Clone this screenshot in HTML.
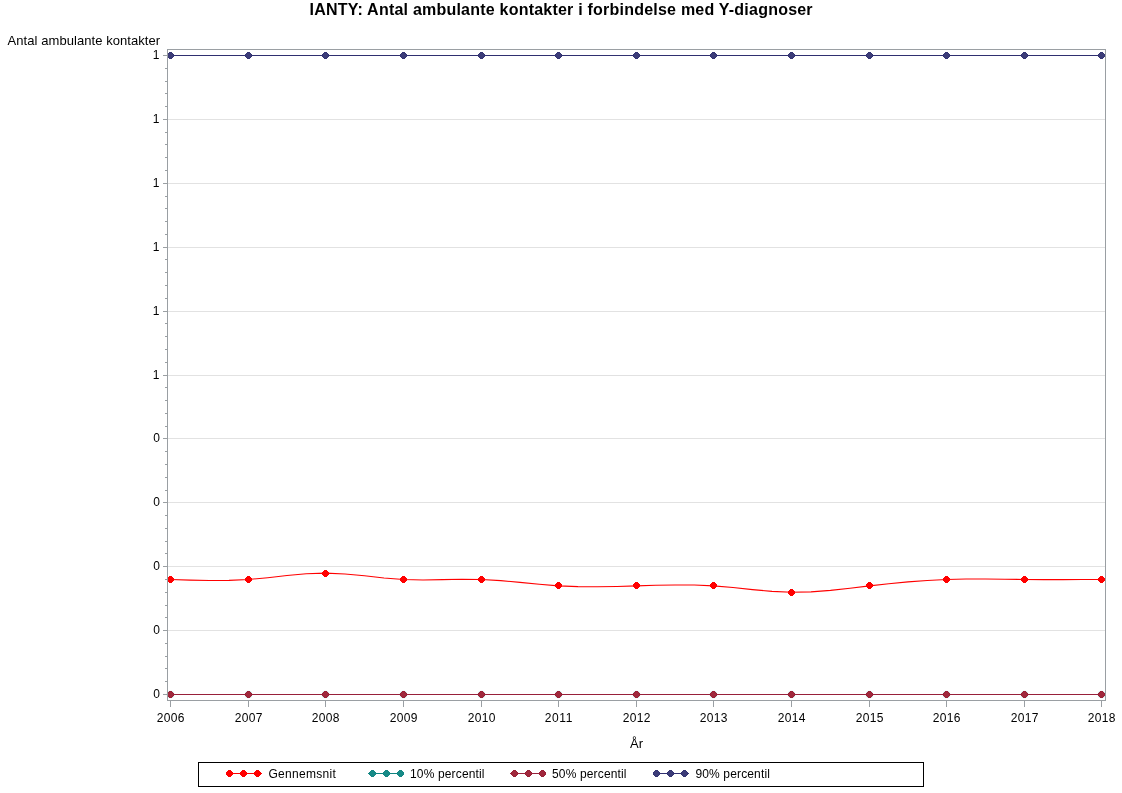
<!DOCTYPE html>
<html><head><meta charset="utf-8"><style>
html,body{margin:0;padding:0;background:#fff;width:1122px;height:793px;overflow:hidden}
svg{position:absolute;left:0;top:0;display:block;will-change:transform}
text{font-family:"Liberation Sans",sans-serif;fill:#000}
</style></head><body>
<svg width="1122" height="793" viewBox="0 0 1122 793">
<rect x="0" y="0" width="1122" height="793" fill="#fff"/>
<text x="309.6" y="15" textLength="503" lengthAdjust="spacing" style="font-size:16px;font-weight:bold">IANTY: Antal ambulante kontakter i forbindelse med Y-diagnoser</text>
<text x="7.6" y="45" textLength="152.5" lengthAdjust="spacing" style="font-size:13px">Antal ambulante kontakter</text>
<g shape-rendering="crispEdges" fill="none">
<path d="M168 119.5H1105" stroke="#E2E2E2"/>
<path d="M168 183.5H1105" stroke="#E2E2E2"/>
<path d="M168 247.5H1105" stroke="#E2E2E2"/>
<path d="M168 311.5H1105" stroke="#E2E2E2"/>
<path d="M168 375.5H1105" stroke="#E2E2E2"/>
<path d="M168 438.5H1105" stroke="#E2E2E2"/>
<path d="M168 502.5H1105" stroke="#E2E2E2"/>
<path d="M168 566.5H1105" stroke="#E2E2E2"/>
<path d="M168 630.5H1105" stroke="#E2E2E2"/>
<path d="M165 681.5H167" stroke="#9A9FA3"/>
<path d="M165 668.5H167" stroke="#9A9FA3"/>
<path d="M165 656.5H167" stroke="#9A9FA3"/>
<path d="M165 643.5H167" stroke="#9A9FA3"/>
<path d="M165 617.5H167" stroke="#9A9FA3"/>
<path d="M165 605.5H167" stroke="#9A9FA3"/>
<path d="M165 592.5H167" stroke="#9A9FA3"/>
<path d="M165 579.5H167" stroke="#9A9FA3"/>
<path d="M165 553.5H167" stroke="#9A9FA3"/>
<path d="M165 541.5H167" stroke="#9A9FA3"/>
<path d="M165 528.5H167" stroke="#9A9FA3"/>
<path d="M165 515.5H167" stroke="#9A9FA3"/>
<path d="M165 490.5H167" stroke="#9A9FA3"/>
<path d="M165 477.5H167" stroke="#9A9FA3"/>
<path d="M165 464.5H167" stroke="#9A9FA3"/>
<path d="M165 451.5H167" stroke="#9A9FA3"/>
<path d="M165 426.5H167" stroke="#9A9FA3"/>
<path d="M165 413.5H167" stroke="#9A9FA3"/>
<path d="M165 400.5H167" stroke="#9A9FA3"/>
<path d="M165 387.5H167" stroke="#9A9FA3"/>
<path d="M165 362.5H167" stroke="#9A9FA3"/>
<path d="M165 349.5H167" stroke="#9A9FA3"/>
<path d="M165 336.5H167" stroke="#9A9FA3"/>
<path d="M165 323.5H167" stroke="#9A9FA3"/>
<path d="M165 298.5H167" stroke="#9A9FA3"/>
<path d="M165 285.5H167" stroke="#9A9FA3"/>
<path d="M165 272.5H167" stroke="#9A9FA3"/>
<path d="M165 259.5H167" stroke="#9A9FA3"/>
<path d="M165 234.5H167" stroke="#9A9FA3"/>
<path d="M165 221.5H167" stroke="#9A9FA3"/>
<path d="M165 208.5H167" stroke="#9A9FA3"/>
<path d="M165 196.5H167" stroke="#9A9FA3"/>
<path d="M165 170.5H167" stroke="#9A9FA3"/>
<path d="M165 157.5H167" stroke="#9A9FA3"/>
<path d="M165 144.5H167" stroke="#9A9FA3"/>
<path d="M165 132.5H167" stroke="#9A9FA3"/>
<path d="M165 106.5H167" stroke="#9A9FA3"/>
<path d="M165 93.5H167" stroke="#9A9FA3"/>
<path d="M165 81.5H167" stroke="#9A9FA3"/>
<path d="M165 68.5H167" stroke="#9A9FA3"/>
<path d="M163 55.5H167" stroke="#9A9FA3"/>
<path d="M163 119.5H167" stroke="#9A9FA3"/>
<path d="M163 183.5H167" stroke="#9A9FA3"/>
<path d="M163 247.5H167" stroke="#9A9FA3"/>
<path d="M163 311.5H167" stroke="#9A9FA3"/>
<path d="M163 375.5H167" stroke="#9A9FA3"/>
<path d="M163 438.5H167" stroke="#9A9FA3"/>
<path d="M163 502.5H167" stroke="#9A9FA3"/>
<path d="M163 566.5H167" stroke="#9A9FA3"/>
<path d="M163 630.5H167" stroke="#9A9FA3"/>
<path d="M163 694.5H167" stroke="#9A9FA3"/>
<path d="M170.5 701V707" stroke="#9A9FA3"/>
<path d="M248.5 701V707" stroke="#9A9FA3"/>
<path d="M325.5 701V707" stroke="#9A9FA3"/>
<path d="M403.5 701V707" stroke="#9A9FA3"/>
<path d="M481.5 701V707" stroke="#9A9FA3"/>
<path d="M558.5 701V707" stroke="#9A9FA3"/>
<path d="M636.5 701V707" stroke="#9A9FA3"/>
<path d="M713.5 701V707" stroke="#9A9FA3"/>
<path d="M791.5 701V707" stroke="#9A9FA3"/>
<path d="M869.5 701V707" stroke="#9A9FA3"/>
<path d="M946.5 701V707" stroke="#9A9FA3"/>
<path d="M1024.5 701V707" stroke="#9A9FA3"/>
<path d="M1101.5 701V707" stroke="#9A9FA3"/>
</g>
<text x="159.4" y="59" text-anchor="end" style="font-size:12px">1</text>
<text x="159.4" y="123" text-anchor="end" style="font-size:12px">1</text>
<text x="159.4" y="187" text-anchor="end" style="font-size:12px">1</text>
<text x="159.4" y="251" text-anchor="end" style="font-size:12px">1</text>
<text x="159.4" y="315" text-anchor="end" style="font-size:12px">1</text>
<text x="159.4" y="379" text-anchor="end" style="font-size:12px">1</text>
<text x="159.9" y="442" text-anchor="end" style="font-size:12px">0</text>
<text x="159.9" y="506" text-anchor="end" style="font-size:12px">0</text>
<text x="159.9" y="570" text-anchor="end" style="font-size:12px">0</text>
<text x="159.9" y="634" text-anchor="end" style="font-size:12px">0</text>
<text x="159.9" y="698" text-anchor="end" style="font-size:12px">0</text>
<text x="156.65" y="722" textLength="27.7" lengthAdjust="spacing" style="font-size:12px">2006</text>
<text x="234.65" y="722" textLength="27.7" lengthAdjust="spacing" style="font-size:12px">2007</text>
<text x="311.65" y="722" textLength="27.7" lengthAdjust="spacing" style="font-size:12px">2008</text>
<text x="389.65" y="722" textLength="27.7" lengthAdjust="spacing" style="font-size:12px">2009</text>
<text x="467.65" y="722" textLength="27.7" lengthAdjust="spacing" style="font-size:12px">2010</text>
<text x="544.65" y="722" textLength="27.7" lengthAdjust="spacing" style="font-size:12px">2011</text>
<text x="622.65" y="722" textLength="27.7" lengthAdjust="spacing" style="font-size:12px">2012</text>
<text x="699.65" y="722" textLength="27.7" lengthAdjust="spacing" style="font-size:12px">2013</text>
<text x="777.65" y="722" textLength="27.7" lengthAdjust="spacing" style="font-size:12px">2014</text>
<text x="855.65" y="722" textLength="27.7" lengthAdjust="spacing" style="font-size:12px">2015</text>
<text x="932.65" y="722" textLength="27.7" lengthAdjust="spacing" style="font-size:12px">2016</text>
<text x="1010.65" y="722" textLength="27.7" lengthAdjust="spacing" style="font-size:12px">2017</text>
<text x="1087.65" y="722" textLength="27.7" lengthAdjust="spacing" style="font-size:12px">2018</text>
<g>
<path d="M170.50,579.48 L190.00,580.14 L209.50,580.54 L229.00,580.41 L248.50,579.48 L267.75,577.68 L287.00,575.55 L306.25,573.79 L325.50,573.09 L345.00,573.94 L364.50,575.82 L384.00,577.93 L403.50,579.48 L423.00,579.93 L442.50,579.65 L462.00,579.30 L481.50,579.48 L500.75,580.62 L520.00,582.41 L539.25,584.32 L558.50,585.87 L578.00,586.67 L597.50,586.79 L617.00,586.45 L636.50,585.87 L655.75,585.29 L675.00,584.93 L694.25,585.04 L713.50,585.87 L733.00,587.54 L752.50,589.58 L772.00,591.36 L791.50,592.26 L811.00,591.84 L830.50,590.34 L850.00,588.21 L869.50,585.87 L888.75,583.72 L908.00,581.88 L927.25,580.44 L946.50,579.48 L966.00,579.05 L985.50,579.04 L1005.00,579.24 L1024.50,579.48 L1043.75,579.61 L1063.00,579.63 L1082.25,579.57 L1101.50,579.48" fill="none" stroke="#FF0000" stroke-width="1.1" stroke-linejoin="round"/><path d="M169.0 576.0h3v1h1v1h1v3h-1v1h-1v1h-3v-1h-1v-1h-1v-3h1v-1h1z" fill="#FF0000" shape-rendering="crispEdges"/><path d="M247.0 576.0h3v1h1v1h1v3h-1v1h-1v1h-3v-1h-1v-1h-1v-3h1v-1h1z" fill="#FF0000" shape-rendering="crispEdges"/><path d="M324.0 570.0h3v1h1v1h1v3h-1v1h-1v1h-3v-1h-1v-1h-1v-3h1v-1h1z" fill="#FF0000" shape-rendering="crispEdges"/><path d="M402.0 576.0h3v1h1v1h1v3h-1v1h-1v1h-3v-1h-1v-1h-1v-3h1v-1h1z" fill="#FF0000" shape-rendering="crispEdges"/><path d="M480.0 576.0h3v1h1v1h1v3h-1v1h-1v1h-3v-1h-1v-1h-1v-3h1v-1h1z" fill="#FF0000" shape-rendering="crispEdges"/><path d="M557.0 582.0h3v1h1v1h1v3h-1v1h-1v1h-3v-1h-1v-1h-1v-3h1v-1h1z" fill="#FF0000" shape-rendering="crispEdges"/><path d="M635.0 582.0h3v1h1v1h1v3h-1v1h-1v1h-3v-1h-1v-1h-1v-3h1v-1h1z" fill="#FF0000" shape-rendering="crispEdges"/><path d="M712.0 582.0h3v1h1v1h1v3h-1v1h-1v1h-3v-1h-1v-1h-1v-3h1v-1h1z" fill="#FF0000" shape-rendering="crispEdges"/><path d="M790.0 589.0h3v1h1v1h1v3h-1v1h-1v1h-3v-1h-1v-1h-1v-3h1v-1h1z" fill="#FF0000" shape-rendering="crispEdges"/><path d="M868.0 582.0h3v1h1v1h1v3h-1v1h-1v1h-3v-1h-1v-1h-1v-3h1v-1h1z" fill="#FF0000" shape-rendering="crispEdges"/><path d="M945.0 576.0h3v1h1v1h1v3h-1v1h-1v1h-3v-1h-1v-1h-1v-3h1v-1h1z" fill="#FF0000" shape-rendering="crispEdges"/><path d="M1023.0 576.0h3v1h1v1h1v3h-1v1h-1v1h-3v-1h-1v-1h-1v-3h1v-1h1z" fill="#FF0000" shape-rendering="crispEdges"/><path d="M1100.0 576.0h3v1h1v1h1v3h-1v1h-1v1h-3v-1h-1v-1h-1v-3h1v-1h1z" fill="#FF0000" shape-rendering="crispEdges"/>
<path d="M170 694.5H1105" stroke="#0E8380" shape-rendering="crispEdges"/><path d="M169.0 691.0h3v1h1v1h1v3h-1v1h-1v1h-3v-1h-1v-1h-1v-3h1v-1h1z" fill="#138784" shape-rendering="crispEdges"/><path d="M169.0 692.0h3v1h1v3h-1v1h-3v-1h-1v-3h1z" fill="#178A87" shape-rendering="crispEdges"/><path d="M247.0 691.0h3v1h1v1h1v3h-1v1h-1v1h-3v-1h-1v-1h-1v-3h1v-1h1z" fill="#138784" shape-rendering="crispEdges"/><path d="M247.0 692.0h3v1h1v3h-1v1h-3v-1h-1v-3h1z" fill="#178A87" shape-rendering="crispEdges"/><path d="M324.0 691.0h3v1h1v1h1v3h-1v1h-1v1h-3v-1h-1v-1h-1v-3h1v-1h1z" fill="#138784" shape-rendering="crispEdges"/><path d="M324.0 692.0h3v1h1v3h-1v1h-3v-1h-1v-3h1z" fill="#178A87" shape-rendering="crispEdges"/><path d="M402.0 691.0h3v1h1v1h1v3h-1v1h-1v1h-3v-1h-1v-1h-1v-3h1v-1h1z" fill="#138784" shape-rendering="crispEdges"/><path d="M402.0 692.0h3v1h1v3h-1v1h-3v-1h-1v-3h1z" fill="#178A87" shape-rendering="crispEdges"/><path d="M480.0 691.0h3v1h1v1h1v3h-1v1h-1v1h-3v-1h-1v-1h-1v-3h1v-1h1z" fill="#138784" shape-rendering="crispEdges"/><path d="M480.0 692.0h3v1h1v3h-1v1h-3v-1h-1v-3h1z" fill="#178A87" shape-rendering="crispEdges"/><path d="M557.0 691.0h3v1h1v1h1v3h-1v1h-1v1h-3v-1h-1v-1h-1v-3h1v-1h1z" fill="#138784" shape-rendering="crispEdges"/><path d="M557.0 692.0h3v1h1v3h-1v1h-3v-1h-1v-3h1z" fill="#178A87" shape-rendering="crispEdges"/><path d="M635.0 691.0h3v1h1v1h1v3h-1v1h-1v1h-3v-1h-1v-1h-1v-3h1v-1h1z" fill="#138784" shape-rendering="crispEdges"/><path d="M635.0 692.0h3v1h1v3h-1v1h-3v-1h-1v-3h1z" fill="#178A87" shape-rendering="crispEdges"/><path d="M712.0 691.0h3v1h1v1h1v3h-1v1h-1v1h-3v-1h-1v-1h-1v-3h1v-1h1z" fill="#138784" shape-rendering="crispEdges"/><path d="M712.0 692.0h3v1h1v3h-1v1h-3v-1h-1v-3h1z" fill="#178A87" shape-rendering="crispEdges"/><path d="M790.0 691.0h3v1h1v1h1v3h-1v1h-1v1h-3v-1h-1v-1h-1v-3h1v-1h1z" fill="#138784" shape-rendering="crispEdges"/><path d="M790.0 692.0h3v1h1v3h-1v1h-3v-1h-1v-3h1z" fill="#178A87" shape-rendering="crispEdges"/><path d="M868.0 691.0h3v1h1v1h1v3h-1v1h-1v1h-3v-1h-1v-1h-1v-3h1v-1h1z" fill="#138784" shape-rendering="crispEdges"/><path d="M868.0 692.0h3v1h1v3h-1v1h-3v-1h-1v-3h1z" fill="#178A87" shape-rendering="crispEdges"/><path d="M945.0 691.0h3v1h1v1h1v3h-1v1h-1v1h-3v-1h-1v-1h-1v-3h1v-1h1z" fill="#138784" shape-rendering="crispEdges"/><path d="M945.0 692.0h3v1h1v3h-1v1h-3v-1h-1v-3h1z" fill="#178A87" shape-rendering="crispEdges"/><path d="M1023.0 691.0h3v1h1v1h1v3h-1v1h-1v1h-3v-1h-1v-1h-1v-3h1v-1h1z" fill="#138784" shape-rendering="crispEdges"/><path d="M1023.0 692.0h3v1h1v3h-1v1h-3v-1h-1v-3h1z" fill="#178A87" shape-rendering="crispEdges"/><path d="M1100.0 691.0h3v1h1v1h1v3h-1v1h-1v1h-3v-1h-1v-1h-1v-3h1v-1h1z" fill="#138784" shape-rendering="crispEdges"/><path d="M1100.0 692.0h3v1h1v3h-1v1h-3v-1h-1v-3h1z" fill="#178A87" shape-rendering="crispEdges"/><circle cx="170.5" cy="694.5" r="3.8" fill="#178A87" fill-opacity="0.22"/><circle cx="248.5" cy="694.5" r="3.8" fill="#178A87" fill-opacity="0.22"/><circle cx="325.5" cy="694.5" r="3.8" fill="#178A87" fill-opacity="0.22"/><circle cx="403.5" cy="694.5" r="3.8" fill="#178A87" fill-opacity="0.22"/><circle cx="481.5" cy="694.5" r="3.8" fill="#178A87" fill-opacity="0.22"/><circle cx="558.5" cy="694.5" r="3.8" fill="#178A87" fill-opacity="0.22"/><circle cx="636.5" cy="694.5" r="3.8" fill="#178A87" fill-opacity="0.22"/><circle cx="713.5" cy="694.5" r="3.8" fill="#178A87" fill-opacity="0.22"/><circle cx="791.5" cy="694.5" r="3.8" fill="#178A87" fill-opacity="0.22"/><circle cx="869.5" cy="694.5" r="3.8" fill="#178A87" fill-opacity="0.22"/><circle cx="946.5" cy="694.5" r="3.8" fill="#178A87" fill-opacity="0.22"/><circle cx="1024.5" cy="694.5" r="3.8" fill="#178A87" fill-opacity="0.22"/><circle cx="1101.5" cy="694.5" r="3.8" fill="#178A87" fill-opacity="0.22"/>
<path d="M170 694.5H1105" stroke="#98203A" shape-rendering="crispEdges"/><path d="M169.0 691.0h3v1h1v1h1v3h-1v1h-1v1h-3v-1h-1v-1h-1v-3h1v-1h1z" fill="#9A2036" shape-rendering="crispEdges"/><path d="M169.0 692.0h3v1h1v3h-1v1h-3v-1h-1v-3h1z" fill="#A0283C" shape-rendering="crispEdges"/><path d="M247.0 691.0h3v1h1v1h1v3h-1v1h-1v1h-3v-1h-1v-1h-1v-3h1v-1h1z" fill="#9A2036" shape-rendering="crispEdges"/><path d="M247.0 692.0h3v1h1v3h-1v1h-3v-1h-1v-3h1z" fill="#A0283C" shape-rendering="crispEdges"/><path d="M324.0 691.0h3v1h1v1h1v3h-1v1h-1v1h-3v-1h-1v-1h-1v-3h1v-1h1z" fill="#9A2036" shape-rendering="crispEdges"/><path d="M324.0 692.0h3v1h1v3h-1v1h-3v-1h-1v-3h1z" fill="#A0283C" shape-rendering="crispEdges"/><path d="M402.0 691.0h3v1h1v1h1v3h-1v1h-1v1h-3v-1h-1v-1h-1v-3h1v-1h1z" fill="#9A2036" shape-rendering="crispEdges"/><path d="M402.0 692.0h3v1h1v3h-1v1h-3v-1h-1v-3h1z" fill="#A0283C" shape-rendering="crispEdges"/><path d="M480.0 691.0h3v1h1v1h1v3h-1v1h-1v1h-3v-1h-1v-1h-1v-3h1v-1h1z" fill="#9A2036" shape-rendering="crispEdges"/><path d="M480.0 692.0h3v1h1v3h-1v1h-3v-1h-1v-3h1z" fill="#A0283C" shape-rendering="crispEdges"/><path d="M557.0 691.0h3v1h1v1h1v3h-1v1h-1v1h-3v-1h-1v-1h-1v-3h1v-1h1z" fill="#9A2036" shape-rendering="crispEdges"/><path d="M557.0 692.0h3v1h1v3h-1v1h-3v-1h-1v-3h1z" fill="#A0283C" shape-rendering="crispEdges"/><path d="M635.0 691.0h3v1h1v1h1v3h-1v1h-1v1h-3v-1h-1v-1h-1v-3h1v-1h1z" fill="#9A2036" shape-rendering="crispEdges"/><path d="M635.0 692.0h3v1h1v3h-1v1h-3v-1h-1v-3h1z" fill="#A0283C" shape-rendering="crispEdges"/><path d="M712.0 691.0h3v1h1v1h1v3h-1v1h-1v1h-3v-1h-1v-1h-1v-3h1v-1h1z" fill="#9A2036" shape-rendering="crispEdges"/><path d="M712.0 692.0h3v1h1v3h-1v1h-3v-1h-1v-3h1z" fill="#A0283C" shape-rendering="crispEdges"/><path d="M790.0 691.0h3v1h1v1h1v3h-1v1h-1v1h-3v-1h-1v-1h-1v-3h1v-1h1z" fill="#9A2036" shape-rendering="crispEdges"/><path d="M790.0 692.0h3v1h1v3h-1v1h-3v-1h-1v-3h1z" fill="#A0283C" shape-rendering="crispEdges"/><path d="M868.0 691.0h3v1h1v1h1v3h-1v1h-1v1h-3v-1h-1v-1h-1v-3h1v-1h1z" fill="#9A2036" shape-rendering="crispEdges"/><path d="M868.0 692.0h3v1h1v3h-1v1h-3v-1h-1v-3h1z" fill="#A0283C" shape-rendering="crispEdges"/><path d="M945.0 691.0h3v1h1v1h1v3h-1v1h-1v1h-3v-1h-1v-1h-1v-3h1v-1h1z" fill="#9A2036" shape-rendering="crispEdges"/><path d="M945.0 692.0h3v1h1v3h-1v1h-3v-1h-1v-3h1z" fill="#A0283C" shape-rendering="crispEdges"/><path d="M1023.0 691.0h3v1h1v1h1v3h-1v1h-1v1h-3v-1h-1v-1h-1v-3h1v-1h1z" fill="#9A2036" shape-rendering="crispEdges"/><path d="M1023.0 692.0h3v1h1v3h-1v1h-3v-1h-1v-3h1z" fill="#A0283C" shape-rendering="crispEdges"/><path d="M1100.0 691.0h3v1h1v1h1v3h-1v1h-1v1h-3v-1h-1v-1h-1v-3h1v-1h1z" fill="#9A2036" shape-rendering="crispEdges"/><path d="M1100.0 692.0h3v1h1v3h-1v1h-3v-1h-1v-3h1z" fill="#A0283C" shape-rendering="crispEdges"/>
<path d="M170 55.5H1105" stroke="#2F2F70" shape-rendering="crispEdges"/><path d="M169.0 52.0h3v1h1v1h1v3h-1v1h-1v1h-3v-1h-1v-1h-1v-3h1v-1h1z" fill="#343473" shape-rendering="crispEdges"/><path d="M169.0 53.0h3v1h1v3h-1v1h-3v-1h-1v-3h1z" fill="#3C3C78" shape-rendering="crispEdges"/><path d="M247.0 52.0h3v1h1v1h1v3h-1v1h-1v1h-3v-1h-1v-1h-1v-3h1v-1h1z" fill="#343473" shape-rendering="crispEdges"/><path d="M247.0 53.0h3v1h1v3h-1v1h-3v-1h-1v-3h1z" fill="#3C3C78" shape-rendering="crispEdges"/><path d="M324.0 52.0h3v1h1v1h1v3h-1v1h-1v1h-3v-1h-1v-1h-1v-3h1v-1h1z" fill="#343473" shape-rendering="crispEdges"/><path d="M324.0 53.0h3v1h1v3h-1v1h-3v-1h-1v-3h1z" fill="#3C3C78" shape-rendering="crispEdges"/><path d="M402.0 52.0h3v1h1v1h1v3h-1v1h-1v1h-3v-1h-1v-1h-1v-3h1v-1h1z" fill="#343473" shape-rendering="crispEdges"/><path d="M402.0 53.0h3v1h1v3h-1v1h-3v-1h-1v-3h1z" fill="#3C3C78" shape-rendering="crispEdges"/><path d="M480.0 52.0h3v1h1v1h1v3h-1v1h-1v1h-3v-1h-1v-1h-1v-3h1v-1h1z" fill="#343473" shape-rendering="crispEdges"/><path d="M480.0 53.0h3v1h1v3h-1v1h-3v-1h-1v-3h1z" fill="#3C3C78" shape-rendering="crispEdges"/><path d="M557.0 52.0h3v1h1v1h1v3h-1v1h-1v1h-3v-1h-1v-1h-1v-3h1v-1h1z" fill="#343473" shape-rendering="crispEdges"/><path d="M557.0 53.0h3v1h1v3h-1v1h-3v-1h-1v-3h1z" fill="#3C3C78" shape-rendering="crispEdges"/><path d="M635.0 52.0h3v1h1v1h1v3h-1v1h-1v1h-3v-1h-1v-1h-1v-3h1v-1h1z" fill="#343473" shape-rendering="crispEdges"/><path d="M635.0 53.0h3v1h1v3h-1v1h-3v-1h-1v-3h1z" fill="#3C3C78" shape-rendering="crispEdges"/><path d="M712.0 52.0h3v1h1v1h1v3h-1v1h-1v1h-3v-1h-1v-1h-1v-3h1v-1h1z" fill="#343473" shape-rendering="crispEdges"/><path d="M712.0 53.0h3v1h1v3h-1v1h-3v-1h-1v-3h1z" fill="#3C3C78" shape-rendering="crispEdges"/><path d="M790.0 52.0h3v1h1v1h1v3h-1v1h-1v1h-3v-1h-1v-1h-1v-3h1v-1h1z" fill="#343473" shape-rendering="crispEdges"/><path d="M790.0 53.0h3v1h1v3h-1v1h-3v-1h-1v-3h1z" fill="#3C3C78" shape-rendering="crispEdges"/><path d="M868.0 52.0h3v1h1v1h1v3h-1v1h-1v1h-3v-1h-1v-1h-1v-3h1v-1h1z" fill="#343473" shape-rendering="crispEdges"/><path d="M868.0 53.0h3v1h1v3h-1v1h-3v-1h-1v-3h1z" fill="#3C3C78" shape-rendering="crispEdges"/><path d="M945.0 52.0h3v1h1v1h1v3h-1v1h-1v1h-3v-1h-1v-1h-1v-3h1v-1h1z" fill="#343473" shape-rendering="crispEdges"/><path d="M945.0 53.0h3v1h1v3h-1v1h-3v-1h-1v-3h1z" fill="#3C3C78" shape-rendering="crispEdges"/><path d="M1023.0 52.0h3v1h1v1h1v3h-1v1h-1v1h-3v-1h-1v-1h-1v-3h1v-1h1z" fill="#343473" shape-rendering="crispEdges"/><path d="M1023.0 53.0h3v1h1v3h-1v1h-3v-1h-1v-3h1z" fill="#3C3C78" shape-rendering="crispEdges"/><path d="M1100.0 52.0h3v1h1v1h1v3h-1v1h-1v1h-3v-1h-1v-1h-1v-3h1v-1h1z" fill="#343473" shape-rendering="crispEdges"/><path d="M1100.0 53.0h3v1h1v3h-1v1h-3v-1h-1v-3h1z" fill="#3C3C78" shape-rendering="crispEdges"/>
</g>
<rect x="167.5" y="49.5" width="938" height="651" fill="none" stroke="#9A9FA3" shape-rendering="crispEdges"/>
<text x="636.5" y="748" text-anchor="middle" style="font-size:13px">År</text>
<rect x="198.5" y="762.5" width="725" height="24" fill="none" stroke="#000" shape-rendering="crispEdges"/>
<path d="M226 773.5H262" stroke="#FF0000" shape-rendering="crispEdges"/>
<path d="M228.0 770.0h3v1h1v1h1v3h-1v1h-1v1h-3v-1h-1v-1h-1v-3h1v-1h1z" fill="#FF0000" shape-rendering="crispEdges"/>
<path d="M242.0 770.0h3v1h1v1h1v3h-1v1h-1v1h-3v-1h-1v-1h-1v-3h1v-1h1z" fill="#FF0000" shape-rendering="crispEdges"/>
<path d="M256.0 770.0h3v1h1v1h1v3h-1v1h-1v1h-3v-1h-1v-1h-1v-3h1v-1h1z" fill="#FF0000" shape-rendering="crispEdges"/>
<text x="268.4" y="778" textLength="67.5" lengthAdjust="spacing" style="font-size:12px">Gennemsnit</text>
<path d="M368 773.5H404" stroke="#0E8380" shape-rendering="crispEdges"/>
<path d="M371.0 770.0h3v1h1v1h1v3h-1v1h-1v1h-3v-1h-1v-1h-1v-3h1v-1h1z" fill="#138784" shape-rendering="crispEdges"/><path d="M371.0 771.0h3v1h1v3h-1v1h-3v-1h-1v-3h1z" fill="#178A87" shape-rendering="crispEdges"/>
<path d="M385.0 770.0h3v1h1v1h1v3h-1v1h-1v1h-3v-1h-1v-1h-1v-3h1v-1h1z" fill="#138784" shape-rendering="crispEdges"/><path d="M385.0 771.0h3v1h1v3h-1v1h-3v-1h-1v-3h1z" fill="#178A87" shape-rendering="crispEdges"/>
<path d="M399.0 770.0h3v1h1v1h1v3h-1v1h-1v1h-3v-1h-1v-1h-1v-3h1v-1h1z" fill="#138784" shape-rendering="crispEdges"/><path d="M399.0 771.0h3v1h1v3h-1v1h-3v-1h-1v-3h1z" fill="#178A87" shape-rendering="crispEdges"/>
<text x="410.0" y="778" textLength="74.5" lengthAdjust="spacing" style="font-size:12px">10% percentil</text>
<path d="M510 773.5H546" stroke="#98203A" shape-rendering="crispEdges"/>
<path d="M513.0 770.0h3v1h1v1h1v3h-1v1h-1v1h-3v-1h-1v-1h-1v-3h1v-1h1z" fill="#9A2036" shape-rendering="crispEdges"/><path d="M513.0 771.0h3v1h1v3h-1v1h-3v-1h-1v-3h1z" fill="#A0283C" shape-rendering="crispEdges"/>
<path d="M527.0 770.0h3v1h1v1h1v3h-1v1h-1v1h-3v-1h-1v-1h-1v-3h1v-1h1z" fill="#9A2036" shape-rendering="crispEdges"/><path d="M527.0 771.0h3v1h1v3h-1v1h-3v-1h-1v-3h1z" fill="#A0283C" shape-rendering="crispEdges"/>
<path d="M541.0 770.0h3v1h1v1h1v3h-1v1h-1v1h-3v-1h-1v-1h-1v-3h1v-1h1z" fill="#9A2036" shape-rendering="crispEdges"/><path d="M541.0 771.0h3v1h1v3h-1v1h-3v-1h-1v-3h1z" fill="#A0283C" shape-rendering="crispEdges"/>
<text x="552.0" y="778" textLength="74.5" lengthAdjust="spacing" style="font-size:12px">50% percentil</text>
<path d="M653 773.5H689" stroke="#2F2F70" shape-rendering="crispEdges"/>
<path d="M655.0 770.0h3v1h1v1h1v3h-1v1h-1v1h-3v-1h-1v-1h-1v-3h1v-1h1z" fill="#343473" shape-rendering="crispEdges"/><path d="M655.0 771.0h3v1h1v3h-1v1h-3v-1h-1v-3h1z" fill="#3C3C78" shape-rendering="crispEdges"/>
<path d="M669.0 770.0h3v1h1v1h1v3h-1v1h-1v1h-3v-1h-1v-1h-1v-3h1v-1h1z" fill="#343473" shape-rendering="crispEdges"/><path d="M669.0 771.0h3v1h1v3h-1v1h-3v-1h-1v-3h1z" fill="#3C3C78" shape-rendering="crispEdges"/>
<path d="M683.0 770.0h3v1h1v1h1v3h-1v1h-1v1h-3v-1h-1v-1h-1v-3h1v-1h1z" fill="#343473" shape-rendering="crispEdges"/><path d="M683.0 771.0h3v1h1v3h-1v1h-3v-1h-1v-3h1z" fill="#3C3C78" shape-rendering="crispEdges"/>
<text x="695.4" y="778" textLength="74.5" lengthAdjust="spacing" style="font-size:12px">90% percentil</text>
</svg>
</body></html>
